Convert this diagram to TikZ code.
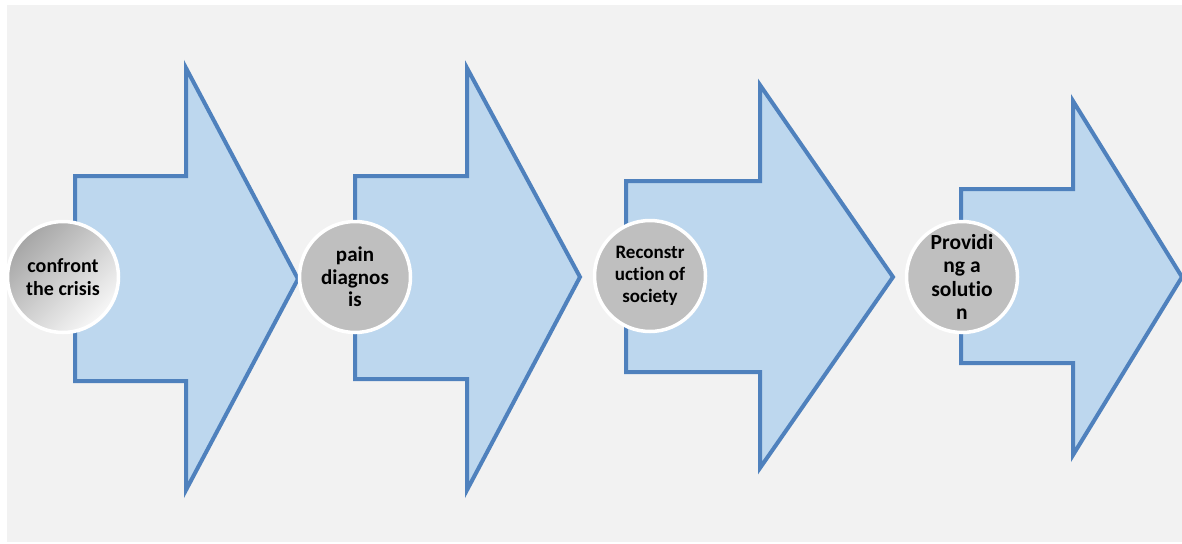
\documentclass[tikz,border=0pt]{standalone}
\usepackage{fontspec}
\setmainfont{Carlito}[Ligatures=NoCommon]
\begin{document}
\begin{tikzpicture}[x=1pt,y=-1pt,
  arrowshape/.style={draw=arrowblue, fill=arrowfill, line width=4pt, line join=miter},
  stepcircle/.style={circle, draw=white, line width=3.5pt, minimum size=111pt, inner sep=0pt,
     fill=circgray, align=center, font=\bfseries\fontsize{20}{22.5}\selectfont, text=black}]
\definecolor{arrowblue}{HTML}{4F81BD}
\definecolor{arrowfill}{HTML}{BDD7EE}
\definecolor{circgray}{HTML}{BFBFBF}
\definecolor{bggray}{HTML}{F2F2F2}
\useasboundingbox (0,0) rectangle (1182,543);
\fill[white] (0,0) rectangle (1182,543);
\fill[bggray] (7,5) rectangle (1182,542);
\begin{scope}
\clip (7,5) rectangle (1182,542);
\draw[arrowshape] (75,176) -- (186,176) -- (186,68) -- (298,279) -- (186,490) -- (186,381) -- (75,381) -- cycle;
\draw[arrowshape] (355,176) -- (467,176) -- (467,68) -- (580,277) -- (467,490) -- (467,379) -- (355,379) -- cycle;
\draw[arrowshape] (626,181) -- (760,181) -- (760,85) -- (893,277) -- (760,468) -- (760,372) -- (626,372) -- cycle;
\draw[arrowshape] (961,189) -- (1073,189) -- (1073,101) -- (1182,277) -- (1073,455) -- (1073,363) -- (961,363) -- cycle;
\end{scope}
\node[stepcircle, top color=gray!70, bottom color=white!94!gray, shading angle=45] (c1) at (63,277) {confront\\the crisis};
\node[stepcircle, font=\bfseries\fontsize{21}{22.5}\selectfont] (c2) at (355,277) {pain\\diagnos\\is};
\node[stepcircle, font=\bfseries\fontsize{19}{22}\selectfont] (c3) at (650,276) {Reconstr\\uction of\\society};
\node[stepcircle, font=\bfseries\fontsize{21.5}{23.5}\selectfont] (c4) at (962,277) {Providi\\ng a\\solutio\\n};
\end{tikzpicture}
\end{document}
